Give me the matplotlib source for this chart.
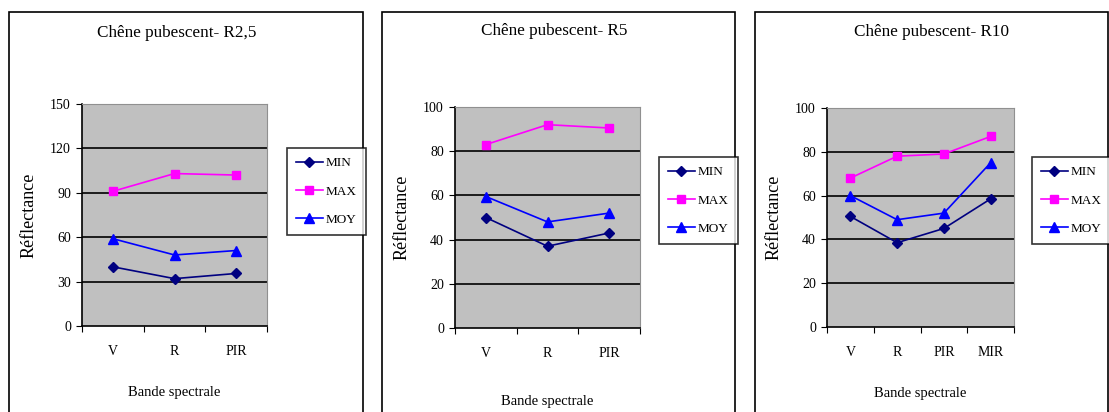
import matplotlib.pyplot as plt
from matplotlib.patches import Rectangle

plt.rcParams['font.family'] = ['Liberation Serif', 'DejaVu Serif']

# donnees
cats_3 = ['V', 'R', 'PIR']
cats_4 = ['V', 'R', 'PIR', 'MIR']

r25_min = [40, 32, 35.5]
r25_max = [91, 103, 102]
r25_moy = [59, 48, 51]

r5_min = [50, 37, 43]
r5_max = [83, 92, 90.5]
r5_moy = [59.5, 48, 52]

r10_min = [50.5, 38.5, 45, 58.5]
r10_max = [68, 78, 79, 87]
r10_moy = [60, 49, 52, 75]

titles = ['Chêne pubescent- R2,5', 'Chêne pubescent- R5', 'Chêne pubescent- R10']

W, H = 1109, 412
fig = plt.figure(figsize=(W / 100, H / 100), dpi=100)


def px(x0, y0, x1, y1):
    # pixels -> coordonnees figure
    return [x0 / W, 1 - y1 / H, (x1 - x0) / W, (y1 - y0) / H]


def panel(frame, area, leg, tpos, xlab_pad, title, cats, mn, mx, moy, ymax, ystep):
    # cadre du graphique
    fx0, fy0, fx1 = frame
    fig.patches.append(Rectangle((fx0 / W, -0.05), (fx1 - fx0) / W, 1 - fy0 / H + 0.05,
                                 transform=fig.transFigure, fill=False,
                                 edgecolor='black', linewidth=1.2))
    ax = fig.add_axes(px(*area))
    ax.set_facecolor('#c0c0c0')
    n = len(cats)
    xs = [i + 0.5 for i in range(n)]
    l1, = ax.plot(xs, mn, color='#000080', marker='D', markersize=5, linewidth=1.2, label='MIN')
    l2, = ax.plot(xs, mx, color='#ff00ff', marker='s', markersize=6, linewidth=1.2, label='MAX')
    l3, = ax.plot(xs, moy, color='#0000ff', marker='^', markersize=7, linewidth=1.2, label='MOY')
    ax.set_xlim(0, n)
    ax.set_ylim(0, ymax)
    ax.set_yticks(range(0, ymax + 1, ystep))
    for y in range(ystep, ymax, ystep):
        ax.axhline(y, color='black', linewidth=1.2, zorder=0.5)
    ax.set_xticks(range(n + 1))
    ax.set_xticklabels([])
    ax.set_xticks(xs, minor=True)
    ax.set_xticklabels(cats, minor=True, fontsize=10)
    ax.tick_params(axis='x', which='minor', length=0, pad=14)
    ax.tick_params(axis='x', which='major', length=4, direction='out')
    ax.tick_params(axis='y', length=4, pad=4, labelsize=10)
    for s in ['top', 'right']:
        ax.spines[s].set_color('#909090')
    for s in ['left', 'bottom']:
        ax.spines[s].set_color('black')
        ax.spines[s].set_linewidth(1.2)
    ax.set_xlabel('Bande spectrale', fontsize=10.5, labelpad=xlab_pad)
    ax.set_ylabel('Réflectance', fontsize=13, labelpad=9)
    fig.text(tpos[0] / W, 1 - tpos[1] / H, title, fontsize=12.3, ha='center', va='center')
    lg = fig.legend(handles=[l1, l2, l3], loc='upper left',
                    bbox_to_anchor=(leg[0] / W, 1 - leg[1] / H),
                    frameon=True, fancybox=False, edgecolor='black',
                    fontsize=9.5, handlelength=2.0, labelspacing=1.2,
                    borderpad=0.7, handletextpad=0.2, borderaxespad=0)
    lg.get_frame().set_linewidth(1.2)
    return ax


panel((9, 12, 363), (82, 104, 267, 326), (287, 148), (177, 33), 20, titles[0], cats_3,
      r25_min, r25_max, r25_moy, 150, 30)
panel((382, 12, 735), (455, 107, 640, 328), (659, 157), (554, 31), 25, titles[1], cats_3,
      r5_min, r5_max, r5_moy, 100, 20)
panel((755, 12, 1108), (827, 108, 1014, 327), (1032, 157), (931, 32), 20, titles[2], cats_4,
      r10_min, r10_max, r10_moy, 100, 20)

fig.savefig('out.png', dpi=100)
